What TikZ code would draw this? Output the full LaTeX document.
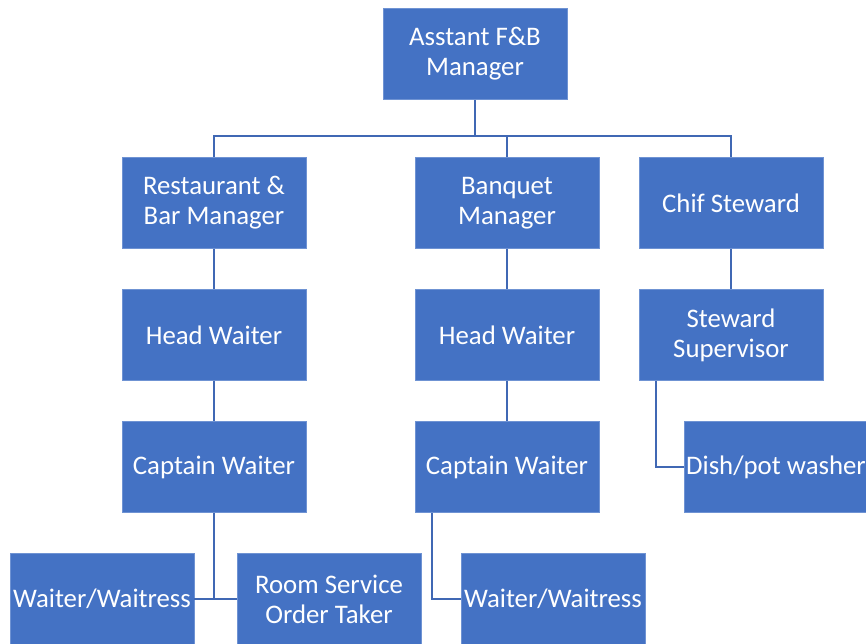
\documentclass[tikz,border=0pt]{standalone}
\usepackage{fontspec}
\setmainfont{Carlito}
\definecolor{boxblue}{HTML}{4472C4}
\definecolor{boxedge}{HTML}{6F93D3}
\definecolor{linkblue}{HTML}{4068B4}
\begin{document}
\begin{tikzpicture}[x=1pt,y=-1pt,
  orgbox/.style={rectangle, fill=boxblue, draw=boxedge, line width=0.8pt,
    minimum width=184pt, minimum height=91pt, inner sep=0pt, align=center,
    text=white, font=\fontsize{26.8}{30}\selectfont},
  link/.style={draw=linkblue, line width=1.6pt}]
\useasboundingbox (0,0) rectangle (866,643);
\clip (0,0) rectangle (866,643);
\node[orgbox] (top) at (475,54) {Asstant F\&B\\Manager};
\node[orgbox] (rbm) at (214,203) {Restaurant \&\\Bar Manager};
\node[orgbox] (bqm) at (507,203) {Banquet\\Manager};
\node[orgbox] (chs) at (731,203) {Chif Steward};
\node[orgbox] (hw1) at (214,335) {Head Waiter};
\node[orgbox] (hw2) at (507,335) {Head Waiter};
\node[orgbox] (sts) at (731,335) {Steward\\Supervisor};
\node[orgbox] (cw1) at (214,467) {Captain Waiter};
\node[orgbox] (cw2) at (507,467) {Captain Waiter};
\node[orgbox] (dpw) at (776,467) {Dish/pot washer};
\node[orgbox] (ww1) at (102,599) {Waiter/Waitress};
\node[orgbox] (rso) at (329,599) {Room Service\\Order Taker};
\node[orgbox] (ww2) at (553,599) {Waiter/Waitress};
% connectors
\coordinate (bus) at (475,136);
\draw[link] (top.south) -- (bus);
\draw[link] (rbm.north) |- (bus) -| (chs.north);
\draw[link] (bqm.north) -- (bqm.north |- bus);
\draw[link] (rbm) -- (hw1);
\draw[link] (hw1) -- (cw1);
\draw[link] (bqm) -- (hw2);
\draw[link] (hw2) -- (cw2);
\draw[link] (chs) -- (sts);
\draw[link] (cw1.south) -- (cw1.south |- ww1.east);
\draw[link] (ww1.east) -- (rso.west);
\draw[link] ([xshift=-75pt]cw2.south) |- (ww2.west);
\draw[link] ([xshift=-75pt]sts.south) |- (dpw.west);
\end{tikzpicture}
\end{document}
